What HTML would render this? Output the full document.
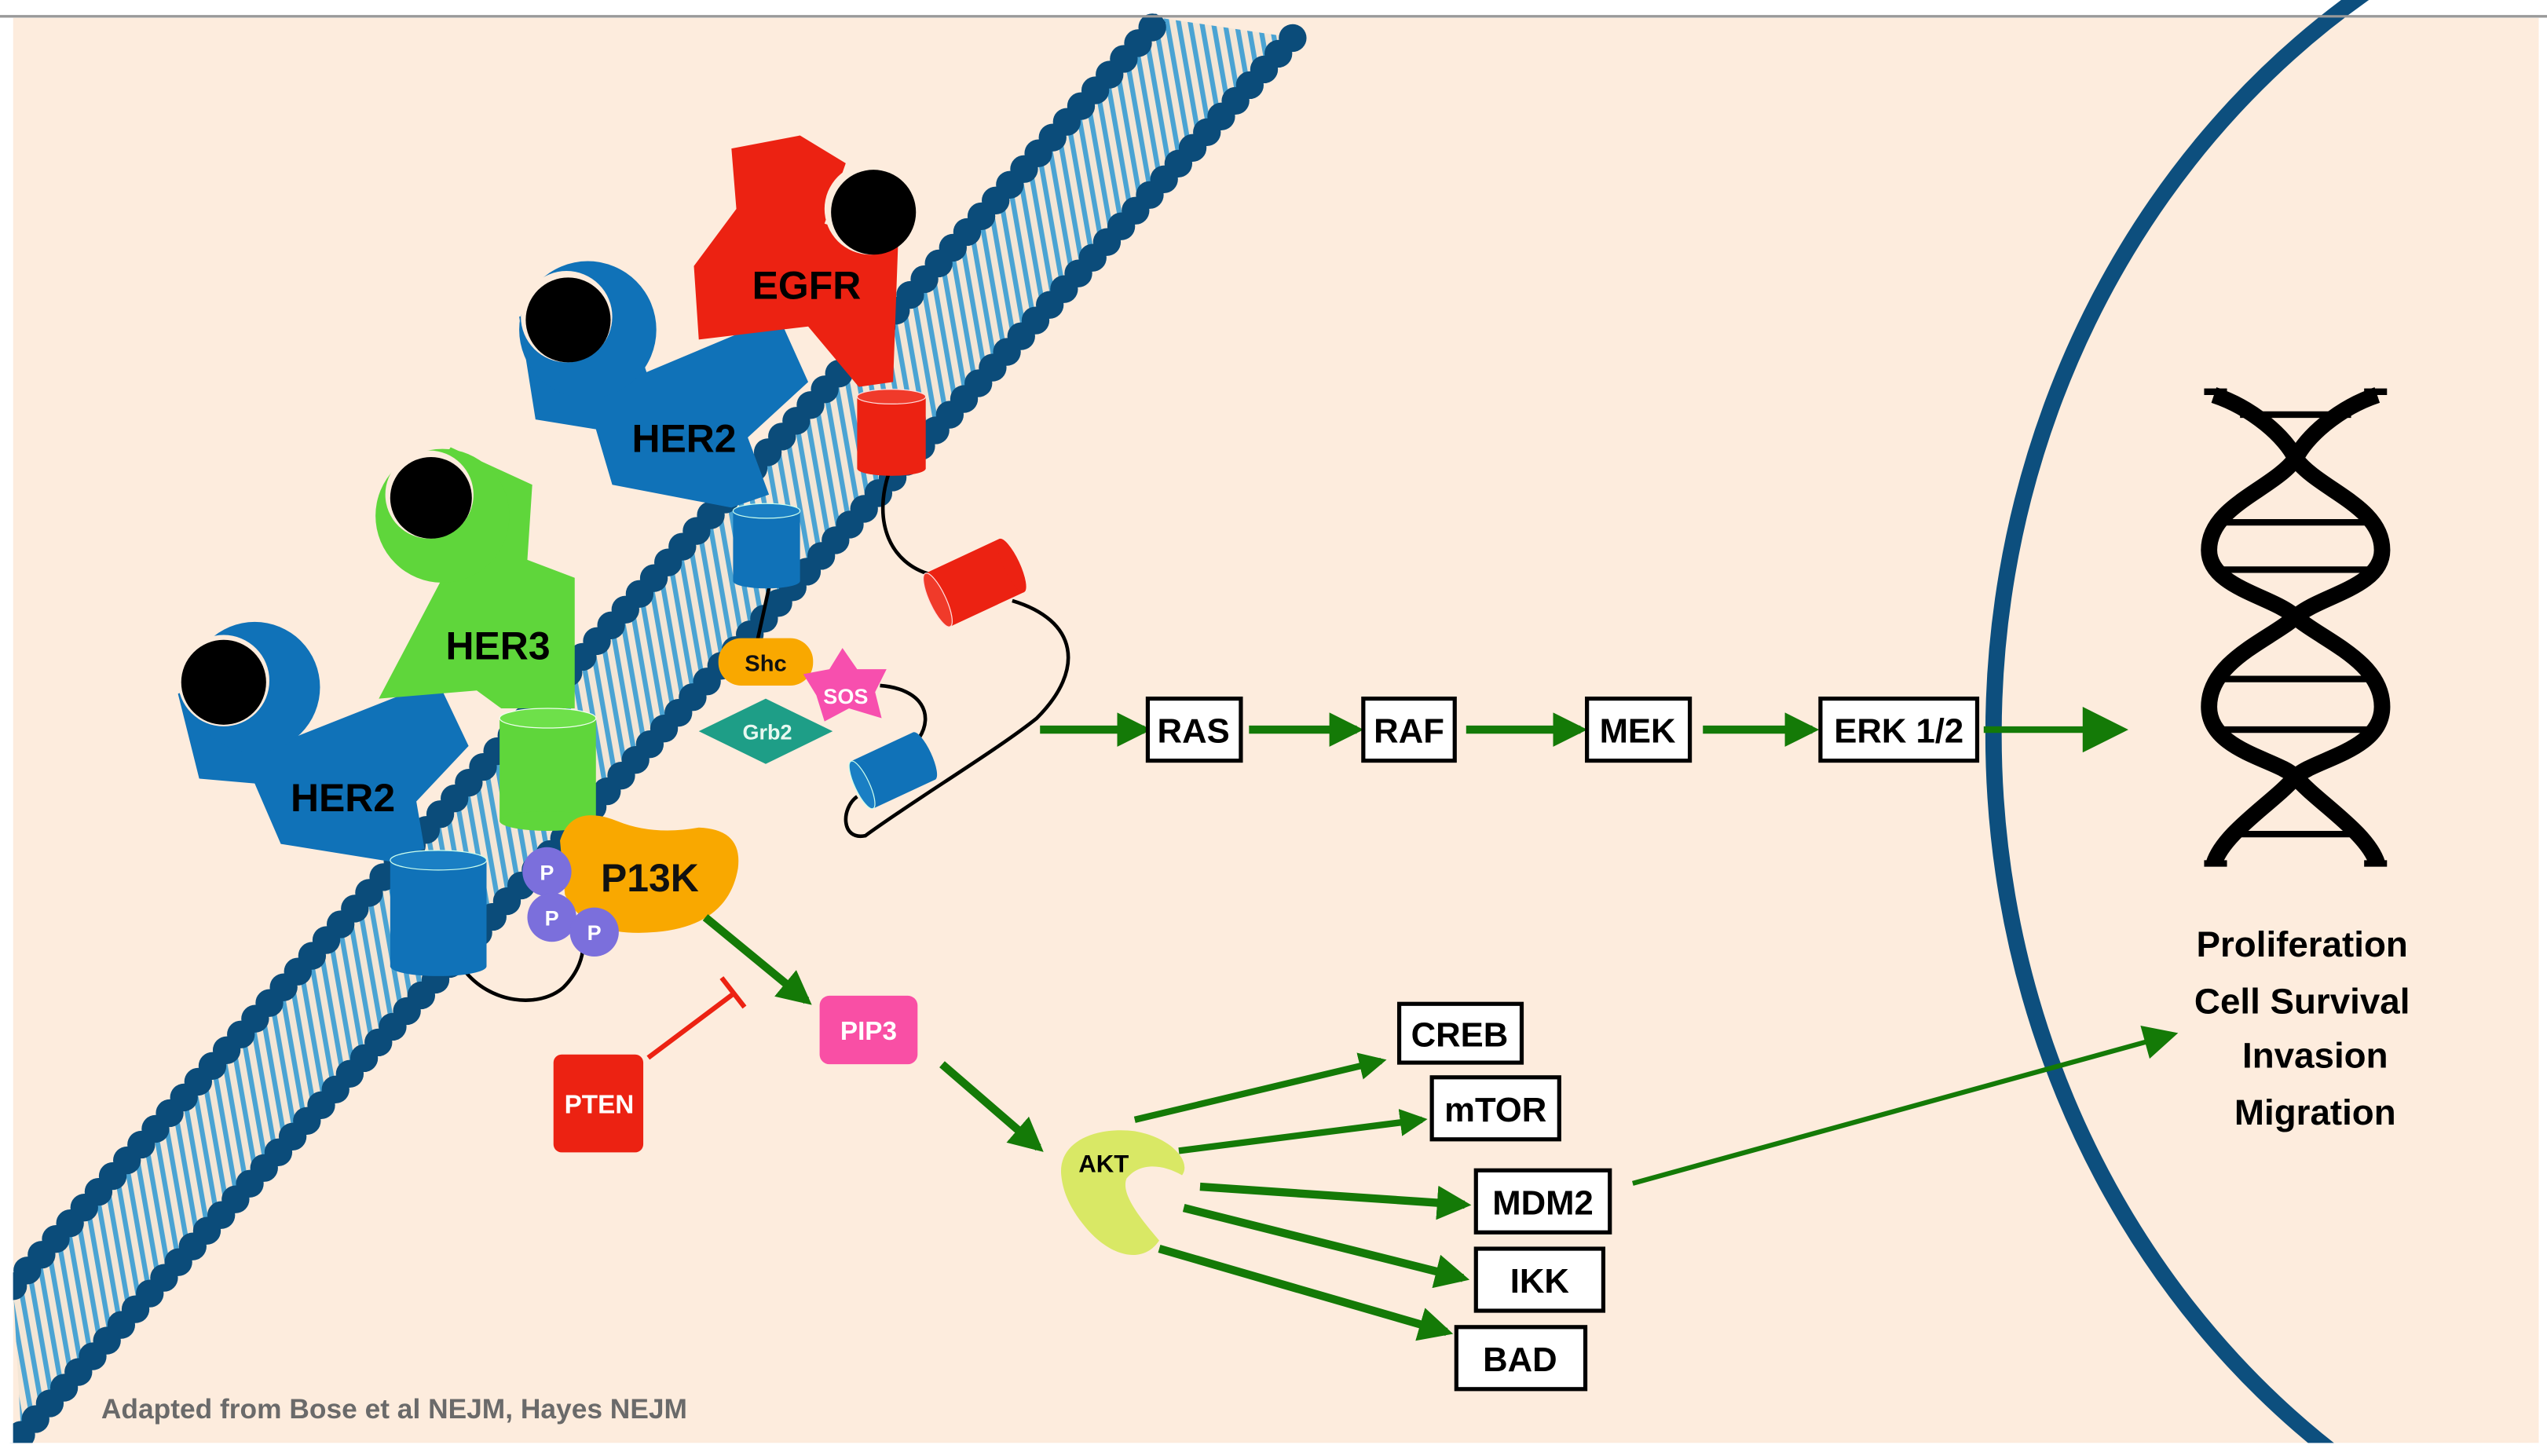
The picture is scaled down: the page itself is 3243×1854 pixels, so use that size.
<!DOCTYPE html>
<html><head><meta charset="utf-8"><style>html,body{margin:0;padding:0;background:#fff;overflow:hidden;width:3243px;height:1854px}svg{display:block;position:absolute;left:0;top:0}</style></head><body>
<svg width="3243" height="1854" viewBox="0 0 1560 892" preserveAspectRatio="none" xmlns="http://www.w3.org/2000/svg">
<defs>
<pattern id="st" width="7" height="7" patternUnits="userSpaceOnUse" patternTransform="rotate(-10)">
<rect width="7" height="7" fill="#f3e6d6"/><rect width="3" height="7" fill="#4aa3d3"/></pattern>
<marker id="ar" viewBox="0 0 10 10" refX="8" refY="5" markerWidth="4.2" markerHeight="4.2" orient="auto" markerUnits="strokeWidth"><path d="M0,0L10,5L0,10z" fill="#147a07"/></marker>
<marker id="ar2" viewBox="0 0 10 10" refX="8" refY="5" markerWidth="8" markerHeight="7" orient="auto" markerUnits="strokeWidth"><path d="M0,0L10,5L0,10z" fill="#147a07"/></marker>
</defs>
<rect x="0" y="0" width="1560" height="892" fill="#fff"/>
<line x1="0" y1="10" x2="1560" y2="10" stroke="#999" stroke-width="1.5"/>
<rect x="8" y="11" width="1547" height="873" fill="#fdecdd"/>
<!-- nucleus -->
<ellipse cx="1721" cy="450" rx="500" ry="542" fill="none" stroke="#0d4f7e" stroke-width="10"/>
<!-- membrane -->
<polygon points="8,788 711,11 792,23 13,879" fill="url(#st)"/>
<line x1="8" y1="788" x2="711" y2="11" stroke="#0b4c7a" stroke-width="8"/>
<line x1="13" y1="879" x2="792" y2="23" stroke="#0b4c7a" stroke-width="8"/>
<line x1="8" y1="788" x2="711" y2="11" stroke="#0b4c7a" stroke-width="17" stroke-linecap="round" stroke-dasharray="0 13"/>
<line x1="13" y1="879" x2="792" y2="23" stroke="#0b4c7a" stroke-width="17" stroke-linecap="round" stroke-dasharray="0 13"/>
<rect x="0" y="884" width="1560" height="8" fill="#fff"/>
<rect x="0" y="11" width="8" height="873" fill="#fff"/>
<rect x="1555" y="11" width="5" height="873" fill="#fff"/>
<line x1="0" y1="10" x2="1560" y2="10" stroke="#999" stroke-width="1.5"/>
<!-- black linkers -->
<g fill="none" stroke="#000" stroke-width="2.2">
<path d="M544,291 C535,320 545,345 570,352"/>
<path d="M620,368 C660,380 665,410 635,440 C610,460 560,490 530,512 C515,515 515,495 525,488"/>
<path d="M471,360 L464,392"/>
<path d="M539,420 C565,422 572,438 563,452"/>
<path d="M284,594 C300,615 330,618 345,605 C355,595 357,585 357,580"/>
</g>
<polygon points="109,425 122,477 156,480 172,517 240,528 260,520 255,491 287,457 268,417 182,451 170,400" fill="#1072b8"/>
<ellipse cx="156" cy="421" rx="40" ry="40" fill="#1072b8"/>
<circle cx="137" cy="417" r="28" fill="#fdecdd"/><circle cx="137" cy="418" r="26" fill="#000"/>
<polygon points="276,274 326,297 323,343 352,354 352,434 307,434 292,423 232,428 271,354 240,330" fill="#5fd63b"/>
<circle cx="271" cy="316" r="41" fill="#5fd63b"/>
<circle cx="263" cy="303" r="27" fill="#fdecdd"/><circle cx="264" cy="305" r="25" fill="#000"/>
<polygon points="318,194 328,257 365,263 375,297 448,311 471,303 458,268 495,234 477,194 396,228 380,180" fill="#1072b8"/>
<circle cx="360" cy="202" r="42" fill="#1072b8"/>
<circle cx="347" cy="194" r="28" fill="#fdecdd"/><circle cx="348" cy="196" r="26" fill="#000"/>
<polygon points="448,91 490,83 518,100 505,137 550,151 547,234 526,237 495,200 428,208 425,163 451,128" fill="#ec2212"/>
<circle cx="533" cy="128" r="28" fill="#fdecdd"/><circle cx="535" cy="130" r="26" fill="#000"/>
<g>
<rect x="239" y="527" width="59" height="65" fill="#1072b8"/><ellipse cx="268.5" cy="592" rx="29.5" ry="6" fill="#1072b8"/><ellipse cx="268.5" cy="527" rx="29.5" ry="6" fill="#1a7fc4" stroke="#cfe" stroke-width="0.6"/>
<rect x="306" y="440" width="59" height="63" fill="#5fd63b"/><ellipse cx="335.5" cy="503" rx="29.5" ry="6" fill="#5fd63b"/><ellipse cx="335.5" cy="440" rx="29.5" ry="6" fill="#6ee04a" stroke="#efe" stroke-width="0.6"/>
<rect x="449" y="313" width="41" height="43" fill="#1072b8"/><ellipse cx="469.5" cy="356" rx="20.5" ry="4.5" fill="#1072b8"/><ellipse cx="469.5" cy="313" rx="20.5" ry="4.5" fill="#1a7fc4" stroke="#cfe" stroke-width="0.6"/>
<rect x="525" y="243" width="42" height="44" fill="#ec2212"/><ellipse cx="546" cy="287" rx="21" ry="4.5" fill="#ec2212"/><ellipse cx="546" cy="243" rx="21" ry="4.5" fill="#f03a2a" stroke="#fdd" stroke-width="0.6"/>
<g transform="translate(597,357) rotate(-25)"><rect x="-25" y="-18" width="50" height="36" fill="#ec2212"/><ellipse cx="-25" cy="0" rx="5" ry="18" fill="#f03a2a" stroke="#fdd" stroke-width="0.6"/><ellipse cx="25" cy="0" rx="5" ry="18" fill="#ec2212"/></g>
<g transform="translate(547,472) rotate(-25)"><rect x="-21" y="-16" width="42" height="32" fill="#1072b8"/><ellipse cx="-21" cy="0" rx="4.5" ry="16" fill="#1a7fc4" stroke="#cfe" stroke-width="0.6"/><ellipse cx="21" cy="0" rx="4.5" ry="16" fill="#1072b8"/></g>
</g>
<g font-family="Liberation Sans, sans-serif" font-weight="bold" text-anchor="middle">
<text x="210" y="497" font-size="24">HER2</text>
<text x="305" y="404" font-size="24">HER3</text>
<text x="419" y="277" font-size="24">HER2</text>
<text x="494" y="183" font-size="24">EGFR</text>
<rect x="440" y="391" width="58" height="29" rx="14" fill="#f9a800"/>
<text x="469" y="411" font-size="14" fill="#111">Shc</text>
<polygon points="469,428 510,448 469,468 428,448" fill="#1e9e87"/>
<text x="470" y="453" font-size="13" fill="#e8f8f0">Grb2</text>
<polygon points="516,397 525,410 543,410 536,424 540,440 520,434 505,442 500,426 492,413 508,410" fill="#f74fae"/>
<text x="518" y="431" font-size="13" fill="#fff">SOS</text>
<path d="M343,515 Q350,492 378,503 Q400,512 428,507 Q455,508 452,532 Q446,567 402,571 Q358,575 346,548 Z" fill="#f9a800"/>
<circle cx="335" cy="534" r="15" fill="#7b6fdc"/><circle cx="338" cy="562" r="15" fill="#7b6fdc"/><circle cx="364" cy="571" r="15" fill="#7b6fdc"/>
<text x="335" y="539" font-size="13" fill="#fff">P</text><text x="338" y="567" font-size="13" fill="#fff">P</text><text x="364" y="576" font-size="13" fill="#fff">P</text>
<text x="398" y="546" font-size="24" fill="#111">P13K</text>
<rect x="502" y="610" width="60" height="42" rx="6" fill="#f94fa5"/>
<text x="532" y="637" font-size="16" fill="#fff">PIP3</text>
<rect x="339" y="646" width="55" height="60" rx="5" fill="#ec2212"/>
<text x="367" y="682" font-size="16" fill="#fff">PTEN</text>
</g>
<line x1="397" y1="648" x2="449" y2="609" stroke="#ec2212" stroke-width="3"/>
<line x1="442" y1="599" x2="456" y2="617" stroke="#ec2212" stroke-width="3"/>
<path d="M650,720 C648,700 670,690 695,693 C718,697 730,712 724,720 C712,713 698,712 690,722 C686,732 700,748 710,760 C700,775 680,770 665,752 C655,740 651,730 650,720 Z" fill="#d9e865"/>
<g stroke="#147a07" fill="none">
<line x1="432" y1="562" x2="494" y2="613" stroke-width="5" marker-end="url(#ar)"/>
<line x1="577" y1="652" x2="636" y2="703" stroke-width="5" marker-end="url(#ar)"/>
<line x1="637" y1="447" x2="701" y2="447" stroke-width="5" marker-end="url(#ar)"/>
<line x1="765" y1="447" x2="831" y2="447" stroke-width="5" marker-end="url(#ar)"/>
<line x1="898" y1="447" x2="968" y2="447" stroke-width="5" marker-end="url(#ar)"/>
<line x1="1043" y1="447" x2="1110" y2="447" stroke-width="5" marker-end="url(#ar)"/>
<line x1="1215" y1="447" x2="1298" y2="447" stroke-width="4" marker-end="url(#ar2)"/>
<line x1="695" y1="686" x2="846" y2="650" stroke-width="4" marker-end="url(#ar)"/>
<line x1="722" y1="705" x2="871" y2="686" stroke-width="4" marker-end="url(#ar)"/>
<line x1="735" y1="727" x2="897" y2="738" stroke-width="5" marker-end="url(#ar)"/>
<line x1="725" y1="740" x2="896" y2="783" stroke-width="5" marker-end="url(#ar)"/>
<line x1="710" y1="765" x2="886" y2="816" stroke-width="5" marker-end="url(#ar)"/>
<line x1="1000" y1="725" x2="1330" y2="634" stroke-width="3" marker-end="url(#ar2)"/>
</g>
<g font-family="Liberation Sans, sans-serif" font-weight="bold" text-anchor="middle" fill="#000">
<text x="676" y="718" font-size="15">AKT</text>
<g fill="#fff" stroke="#000" stroke-width="2.5">
<rect x="703" y="428" width="57" height="38"/><rect x="835" y="428" width="56" height="38"/>
<rect x="972" y="428" width="63" height="38"/><rect x="1115" y="428" width="96" height="38"/>
<rect x="857" y="615" width="75" height="36"/><rect x="877" y="660" width="78" height="38"/>
<rect x="904" y="717" width="82" height="38"/><rect x="904" y="765" width="78" height="38"/>
<rect x="892" y="813" width="79" height="38"/>
</g>
<g font-size="21">
<text x="731" y="455">RAS</text><text x="863" y="455">RAF</text><text x="1003" y="455">MEK</text><text x="1163" y="455">ERK 1/2</text>
<text x="894" y="641">CREB</text><text x="916" y="687">mTOR</text><text x="945" y="744">MDM2</text><text x="943" y="792">IKK</text><text x="931" y="840">BAD</text>
</g>
<g font-size="22">
<text x="1410" y="586">Proliferation</text><text x="1410" y="621">Cell Survival</text><text x="1418" y="654">Invasion</text><text x="1418" y="689">Migration</text>
</g>
<text x="62" y="869" font-size="17" fill="#6a6a6a" text-anchor="start">Adapted from Bose et al NEJM, Hayes NEJM</text>
</g>
<g fill="none" stroke="#000">
<path d="M1356,242 C1380,250 1400,268 1406,281 C1420,300 1459,310 1459,337 C1459,360 1420,365 1406,378 C1390,392 1353,405 1353,433 C1353,460 1395,465 1406,476 C1420,492 1450,510 1456,529" stroke-width="10"/>
<path d="M1456,242 C1432,250 1412,268 1406,281 C1392,300 1353,310 1353,337 C1353,360 1392,365 1406,378 C1422,392 1459,405 1459,433 C1459,460 1417,465 1406,476 C1392,492 1362,510 1356,529" stroke-width="10"/>
<g stroke-width="4"><line x1="1372" y1="254" x2="1440" y2="254"/><line x1="1360" y1="320" x2="1452" y2="320"/><line x1="1360" y1="349" x2="1452" y2="349"/><line x1="1360" y1="416" x2="1452" y2="416"/><line x1="1360" y1="447" x2="1452" y2="447"/><line x1="1372" y1="511" x2="1440" y2="511"/></g>
<line x1="1350" y1="240" x2="1364" y2="240" stroke-width="4"/><line x1="1448" y1="240" x2="1462" y2="240" stroke-width="4"/>
<line x1="1350" y1="529" x2="1364" y2="529" stroke-width="4"/><line x1="1448" y1="529" x2="1462" y2="529" stroke-width="4"/>
</g>
</svg>
</body></html>
